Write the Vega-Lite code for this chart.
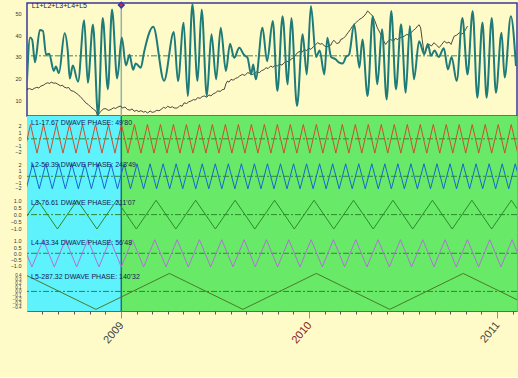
{
"$schema":"https://vega.github.io/schema/vega-lite/v6.json",
"background":"#fffbc9",
"padding":{"left":0,"top":0,"right":2,"bottom":31},
"spacing":0,
"bounds":"flush",
"config":{"axisY":{"grid":false,"ticks":false,"domain":false,"labelFontSize":5.5,"labelFont":"Liberation Sans","labelColor":"#333333","labelPadding":6,"minExtent":26,"maxExtent":26,"title":null,"labelOverlap":false,"labelBound":false,"labelFlush":false}},
"datasets":{
"mean":[{"v":30.5}],
"zero":[{"v":0}],
"marker":[{"d":183,"top":54.07}],
"zones":[{"d":-20,"d2":183,"zone":"a"},{"d":183,"d2":980,"zone":"b"}],
"toptext":[{"d":9,"v":53.5,"text":"L1+L2+L3+L4+L5"}],
"labels":[{"p":"L1","d":8,"v":2.4,"text":"L1-17.67 DWAVE PHASE: 49'80"},{"p":"L2","d":8,"v":1.9,"text":"L2-59.39 DWAVE PHASE: 243'49"},{"p":"L3","d":8,"v":0.87,"text":"L3-76.61 DWAVE PHASE: 211'07"},{"p":"L4","d":8,"v":0.81,"text":"L4-43.34 DWAVE PHASE: 56'48"},{"p":"L5","d":8,"v":0.36,"text":"L5-287.32 DWAVE PHASE: 140'32"}],
"teal":[{"d":0,"v":19},{"d":6,"v":39},{"d":10,"v":38},{"d":15.5,"v":27.5},{"d":25,"v":42.5},{"d":31,"v":42},{"d":37,"v":31},{"d":43,"v":31.5},{"d":52,"v":23.5},{"d":56,"v":25.5},{"d":62,"v":22.5},{"d":73,"v":41},{"d":79,"v":33},{"d":83,"v":20},{"d":89,"v":26},{"d":99,"v":18.5},{"d":111,"v":47},{"d":118,"v":18},{"d":128,"v":45},{"d":138,"v":2.5},{"d":147,"v":48},{"d":157,"v":15},{"d":165,"v":52},{"d":175,"v":20},{"d":184,"v":39},{"d":192,"v":26},{"d":199,"v":31},{"d":206,"v":24},{"d":211,"v":27},{"d":221,"v":25},{"d":227,"v":32},{"d":245,"v":44},{"d":266,"v":19},{"d":285,"v":41.5},{"d":293,"v":18.8},{"d":304,"v":45.8},{"d":312,"v":11.9},{"d":321,"v":54.4},{"d":331,"v":18.8},{"d":339,"v":52},{"d":349,"v":11.9},{"d":358,"v":40.5},{"d":367,"v":19.6},{"d":376,"v":43.5},{"d":386,"v":23.5},{"d":394,"v":36.1},{"d":402,"v":29.6},{"d":412,"v":34.2},{"d":421,"v":31},{"d":428,"v":29.6},{"d":435,"v":21.9},{"d":439,"v":26.5},{"d":444,"v":19.6},{"d":457,"v":43.5},{"d":466,"v":28},{"d":477,"v":46.6},{"d":486,"v":14.2},{"d":496,"v":48.9},{"d":506,"v":17.3},{"d":513,"v":48.1},{"d":524,"v":7.2},{"d":535,"v":40.5},{"d":543,"v":21.9},{"d":551,"v":53.6},{"d":561,"v":30},{"d":568,"v":33},{"d":577,"v":21.9},{"d":583,"v":38.9},{"d":590,"v":30},{"d":599,"v":28.9},{"d":605,"v":27.5},{"d":613,"v":27},{"d":619,"v":30},{"d":625,"v":31},{"d":635,"v":45.1},{"d":645,"v":25},{"d":651,"v":38.1},{"d":661,"v":11.9},{"d":671,"v":48.9},{"d":680,"v":17.3},{"d":689,"v":42.8},{"d":698,"v":10.3},{"d":707,"v":51.3},{"d":716,"v":15},{"d":726,"v":45.1},{"d":735,"v":13.4},{"d":743,"v":44.3},{"d":751,"v":19.6},{"d":761,"v":37.3},{"d":771,"v":31.2},{"d":778,"v":36},{"d":784,"v":30.5},{"d":791,"v":33},{"d":799,"v":30},{"d":809,"v":34},{"d":817,"v":24.2},{"d":824,"v":30},{"d":834,"v":18.8},{"d":845,"v":48.1},{"d":855,"v":21.9},{"d":865,"v":51.3},{"d":874,"v":11.1},{"d":884,"v":46},{"d":892,"v":11.1},{"d":902,"v":48.1},{"d":910,"v":13.4},{"d":921,"v":41.2},{"d":927,"v":20.4},{"d":939,"v":48.9},{"d":949,"v":25.8}],
"price":[{"d":0,"v":15},{"d":5,"v":15.3},{"d":10,"v":14.8},{"d":14,"v":15.4},{"d":19,"v":15.9},{"d":23,"v":15.6},{"d":27,"v":16.5},{"d":32,"v":16.9},{"d":36,"v":17.6},{"d":40,"v":18},{"d":44,"v":17.7},{"d":47,"v":18.3},{"d":52,"v":17.8},{"d":56,"v":17.9},{"d":60,"v":17.3},{"d":65,"v":16.6},{"d":69,"v":16.9},{"d":72,"v":16},{"d":77,"v":15.6},{"d":81,"v":15.8},{"d":85,"v":14.4},{"d":90,"v":14.1},{"d":95,"v":13.3},{"d":100,"v":12.4},{"d":105,"v":11.1},{"d":109,"v":10.2},{"d":114,"v":8.7},{"d":119,"v":7.9},{"d":124,"v":6.7},{"d":129,"v":5.8},{"d":134,"v":4.8},{"d":137,"v":2.6},{"d":140,"v":3.9},{"d":144,"v":4.8},{"d":148,"v":5.9},{"d":153,"v":6},{"d":158,"v":5.2},{"d":163,"v":5.6},{"d":168,"v":6.4},{"d":172,"v":6.1},{"d":176,"v":6.7},{"d":181,"v":7.2},{"d":186,"v":6.3},{"d":190,"v":6.8},{"d":195,"v":5.6},{"d":200,"v":5.3},{"d":204,"v":5.9},{"d":208,"v":4.8},{"d":213,"v":5.2},{"d":217,"v":4.6},{"d":221,"v":5.1},{"d":226,"v":4.4},{"d":230,"v":4.7},{"d":234,"v":4},{"d":239,"v":4.9},{"d":243,"v":4.3},{"d":247,"v":4.5},{"d":252,"v":5.3},{"d":256,"v":5},{"d":260,"v":5.6},{"d":265,"v":6.6},{"d":269,"v":6.2},{"d":273,"v":7.1},{"d":278,"v":6.5},{"d":282,"v":6.9},{"d":286,"v":6.3},{"d":292,"v":6.3},{"d":297,"v":7.5},{"d":301,"v":7.1},{"d":305,"v":8.7},{"d":310,"v":8.4},{"d":314,"v":9.2},{"d":318,"v":9.5},{"d":323,"v":10.2},{"d":327,"v":10},{"d":331,"v":11.1},{"d":336,"v":10.8},{"d":340,"v":11.6},{"d":344,"v":11.9},{"d":349,"v":11.3},{"d":353,"v":12.4},{"d":357,"v":11.9},{"d":361,"v":12.8},{"d":366,"v":13.4},{"d":370,"v":14.2},{"d":375,"v":14},{"d":379,"v":14.8},{"d":383,"v":15},{"d":386,"v":17.5},{"d":389,"v":18.8},{"d":392,"v":18.3},{"d":396,"v":19.6},{"d":400,"v":19.2},{"d":405,"v":20.1},{"d":409,"v":20.4},{"d":413,"v":21.2},{"d":418,"v":21.9},{"d":423,"v":21.4},{"d":428,"v":22.7},{"d":432,"v":22.4},{"d":437,"v":21.8},{"d":441,"v":22.2},{"d":446,"v":23.1},{"d":451,"v":22.7},{"d":455,"v":23.6},{"d":460,"v":24.1},{"d":464,"v":25},{"d":468,"v":24.6},{"d":473,"v":25.8},{"d":477,"v":25.2},{"d":482,"v":26.1},{"d":486,"v":25.8},{"d":490,"v":26.6},{"d":495,"v":26.2},{"d":499,"v":27.3},{"d":503,"v":28.1},{"d":508,"v":27.7},{"d":512,"v":28.9},{"d":517,"v":29.6},{"d":521,"v":30.8},{"d":525,"v":32},{"d":530,"v":32.6},{"d":534,"v":32.2},{"d":538,"v":33.5},{"d":543,"v":32.9},{"d":547,"v":34.1},{"d":551,"v":33.5},{"d":556,"v":34.8},{"d":560,"v":35.6},{"d":564,"v":36.6},{"d":569,"v":35.9},{"d":573,"v":36.2},{"d":577,"v":35.1},{"d":582,"v":34.6},{"d":586,"v":35.2},{"d":590,"v":35.5},{"d":593,"v":37.1},{"d":596,"v":37.7},{"d":601,"v":36.2},{"d":606,"v":36.6},{"d":609,"v":38.1},{"d":614,"v":38.6},{"d":618,"v":39.6},{"d":623,"v":41.2},{"d":628,"v":42.8},{"d":631,"v":44},{"d":635,"v":45.1},{"d":640,"v":46.2},{"d":645,"v":47.4},{"d":649,"v":47.9},{"d":654,"v":48.9},{"d":658,"v":50.1},{"d":661,"v":51.3},{"d":666,"v":50.2},{"d":671,"v":48.9},{"d":675,"v":46.8},{"d":680,"v":43.5},{"d":685,"v":41.2},{"d":690,"v":38.9},{"d":693,"v":37},{"d":696,"v":35.8},{"d":701,"v":37.4},{"d":706,"v":38.1},{"d":711,"v":37.2},{"d":715,"v":38.6},{"d":719,"v":38.1},{"d":724,"v":38.9},{"d":728,"v":39.2},{"d":732,"v":39.6},{"d":737,"v":40.4},{"d":741,"v":40.1},{"d":745,"v":41.2},{"d":750,"v":42.3},{"d":754,"v":43.1},{"d":758,"v":44.3},{"d":761,"v":44.9},{"d":764,"v":43.5},{"d":767,"v":38},{"d":771,"v":31.2},{"d":775,"v":33.6},{"d":780,"v":35.8},{"d":785,"v":35.1},{"d":790,"v":36.6},{"d":795,"v":35.4},{"d":800,"v":34.3},{"d":805,"v":35.8},{"d":810,"v":37.3},{"d":815,"v":36.4},{"d":819,"v":36.9},{"d":823,"v":35.8},{"d":826,"v":37.8},{"d":829,"v":39.6},{"d":834,"v":40.1},{"d":839,"v":41.2},{"d":843,"v":40.6},{"d":848,"v":41.2},{"d":851,"v":42.6},{"d":855,"v":44.3}],
"L1":[{"d":-5.8,"v":-2.2},{"d":6.8,"v":2.2},{"d":19.4,"v":-2.2},{"d":32.0,"v":2.2},{"d":44.6,"v":-2.2},{"d":57.2,"v":2.2},{"d":69.8,"v":-2.2},{"d":82.4,"v":2.2},{"d":95.1,"v":-2.2},{"d":107.7,"v":2.2},{"d":120.3,"v":-2.2},{"d":132.9,"v":2.2},{"d":145.5,"v":-2.2},{"d":158.1,"v":2.2},{"d":170.7,"v":-2.2},{"d":183.3,"v":2.2},{"d":195.9,"v":-2.2},{"d":208.5,"v":2.2},{"d":221.1,"v":-2.2},{"d":233.7,"v":2.2},{"d":246.4,"v":-2.2},{"d":259.0,"v":2.2},{"d":271.6,"v":-2.2},{"d":284.2,"v":2.2},{"d":296.8,"v":-2.2},{"d":309.4,"v":2.2},{"d":322.0,"v":-2.2},{"d":334.6,"v":2.2},{"d":347.2,"v":-2.2},{"d":359.8,"v":2.2},{"d":372.4,"v":-2.2},{"d":385.0,"v":2.2},{"d":397.6,"v":-2.2},{"d":410.3,"v":2.2},{"d":422.9,"v":-2.2},{"d":435.5,"v":2.2},{"d":448.1,"v":-2.2},{"d":460.7,"v":2.2},{"d":473.3,"v":-2.2},{"d":485.9,"v":2.2},{"d":498.5,"v":-2.2},{"d":511.1,"v":2.2},{"d":523.7,"v":-2.2},{"d":536.3,"v":2.2},{"d":548.9,"v":-2.2},{"d":561.6,"v":2.2},{"d":574.2,"v":-2.2},{"d":586.8,"v":2.2},{"d":599.4,"v":-2.2},{"d":612.0,"v":2.2},{"d":624.6,"v":-2.2},{"d":637.2,"v":2.2},{"d":649.8,"v":-2.2},{"d":662.4,"v":2.2},{"d":675.0,"v":-2.2},{"d":687.6,"v":2.2},{"d":700.2,"v":-2.2},{"d":712.8,"v":2.2},{"d":725.5,"v":-2.2},{"d":738.1,"v":2.2},{"d":750.7,"v":-2.2},{"d":763.3,"v":2.2},{"d":775.9,"v":-2.2},{"d":788.5,"v":2.2},{"d":801.1,"v":-2.2},{"d":813.7,"v":2.2},{"d":826.3,"v":-2.2},{"d":838.9,"v":2.2},{"d":851.5,"v":-2.2},{"d":864.1,"v":2.2},{"d":876.7,"v":-2.2},{"d":889.3,"v":2.2},{"d":901.9,"v":-2.2},{"d":914.6,"v":2.2},{"d":927.2,"v":-2.2},{"d":939.8,"v":2.2},{"d":952.4,"v":-2.2}],
"L2":[{"d":-1.6,"v":-2.2},{"d":11.1,"v":2.2},{"d":23.8,"v":-2.2},{"d":36.4,"v":2.2},{"d":49.1,"v":-2.2},{"d":61.7,"v":2.2},{"d":74.4,"v":-2.2},{"d":87.0,"v":2.2},{"d":99.7,"v":-2.2},{"d":112.3,"v":2.2},{"d":125.0,"v":-2.2},{"d":137.7,"v":2.2},{"d":150.3,"v":-2.2},{"d":163.0,"v":2.2},{"d":175.6,"v":-2.2},{"d":188.3,"v":2.2},{"d":200.9,"v":-2.2},{"d":213.6,"v":2.2},{"d":226.2,"v":-2.2},{"d":238.9,"v":2.2},{"d":251.5,"v":-2.2},{"d":264.2,"v":2.2},{"d":276.9,"v":-2.2},{"d":289.5,"v":2.2},{"d":302.2,"v":-2.2},{"d":314.8,"v":2.2},{"d":327.5,"v":-2.2},{"d":340.1,"v":2.2},{"d":352.8,"v":-2.2},{"d":365.4,"v":2.2},{"d":378.1,"v":-2.2},{"d":390.8,"v":2.2},{"d":403.4,"v":-2.2},{"d":416.1,"v":2.2},{"d":428.7,"v":-2.2},{"d":441.4,"v":2.2},{"d":454.0,"v":-2.2},{"d":466.7,"v":2.2},{"d":479.3,"v":-2.2},{"d":492.0,"v":2.2},{"d":504.6,"v":-2.2},{"d":517.3,"v":2.2},{"d":530.0,"v":-2.2},{"d":542.6,"v":2.2},{"d":555.3,"v":-2.2},{"d":567.9,"v":2.2},{"d":580.6,"v":-2.2},{"d":593.2,"v":2.2},{"d":605.9,"v":-2.2},{"d":618.5,"v":2.2},{"d":631.2,"v":-2.2},{"d":643.9,"v":2.2},{"d":656.5,"v":-2.2},{"d":669.2,"v":2.2},{"d":681.8,"v":-2.2},{"d":694.5,"v":2.2},{"d":707.1,"v":-2.2},{"d":719.8,"v":2.2},{"d":732.4,"v":-2.2},{"d":745.1,"v":2.2},{"d":757.7,"v":-2.2},{"d":770.4,"v":2.2},{"d":783.1,"v":-2.2},{"d":795.7,"v":2.2},{"d":808.4,"v":-2.2},{"d":821.0,"v":2.2},{"d":833.7,"v":-2.2},{"d":846.3,"v":2.2},{"d":859.0,"v":-2.2},{"d":871.6,"v":2.2},{"d":884.3,"v":-2.2},{"d":897.0,"v":2.2},{"d":909.6,"v":-2.2},{"d":922.3,"v":2.2},{"d":934.9,"v":-2.2},{"d":947.6,"v":2.2},{"d":960.2,"v":-2.2}],
"L3":[{"d":-17.5,"v":-1.05},{"d":20.8,"v":1.05},{"d":59.1,"v":-1.05},{"d":97.4,"v":1.05},{"d":135.7,"v":-1.05},{"d":174.0,"v":1.05},{"d":212.3,"v":-1.05},{"d":250.6,"v":1.05},{"d":288.9,"v":-1.05},{"d":327.3,"v":1.05},{"d":365.6,"v":-1.05},{"d":403.9,"v":1.05},{"d":442.2,"v":-1.05},{"d":480.5,"v":1.05},{"d":518.8,"v":-1.05},{"d":557.1,"v":1.05},{"d":595.4,"v":-1.05},{"d":633.7,"v":1.05},{"d":672.0,"v":-1.05},{"d":710.3,"v":1.05},{"d":748.6,"v":-1.05},{"d":786.9,"v":1.05},{"d":825.2,"v":-1.05},{"d":863.5,"v":1.05},{"d":901.8,"v":-1.05},{"d":940.1,"v":1.05},{"d":978.4,"v":-1.05}],
"L4":[{"d":-33.7,"v":-1.1},{"d":-12.0,"v":1.1},{"d":9.6,"v":-1.1},{"d":31.3,"v":1.1},{"d":53.0,"v":-1.1},{"d":74.6,"v":1.1},{"d":96.3,"v":-1.1},{"d":118.0,"v":1.1},{"d":139.7,"v":-1.1},{"d":161.3,"v":1.1},{"d":183.0,"v":-1.1},{"d":204.7,"v":1.1},{"d":226.3,"v":-1.1},{"d":248.0,"v":1.1},{"d":269.7,"v":-1.1},{"d":291.4,"v":1.1},{"d":313.0,"v":-1.1},{"d":334.7,"v":1.1},{"d":356.4,"v":-1.1},{"d":378.0,"v":1.1},{"d":399.7,"v":-1.1},{"d":421.4,"v":1.1},{"d":443.0,"v":-1.1},{"d":464.7,"v":1.1},{"d":486.4,"v":-1.1},{"d":508.1,"v":1.1},{"d":529.7,"v":-1.1},{"d":551.4,"v":1.1},{"d":573.1,"v":-1.1},{"d":594.7,"v":1.1},{"d":616.4,"v":-1.1},{"d":638.1,"v":1.1},{"d":659.7,"v":-1.1},{"d":681.4,"v":1.1},{"d":703.1,"v":-1.1},{"d":724.8,"v":1.1},{"d":746.4,"v":-1.1},{"d":768.1,"v":1.1},{"d":789.8,"v":-1.1},{"d":811.4,"v":1.1},{"d":833.1,"v":-1.1},{"d":854.8,"v":1.1},{"d":876.4,"v":-1.1},{"d":898.1,"v":1.1},{"d":919.8,"v":-1.1},{"d":941.5,"v":1.1},{"d":963.1,"v":-1.1}],
"L5":[{"d":-8.7,"v":0.44},{"d":133.8,"v":-0.44},{"d":276.4,"v":0.44},{"d":419,"v":-0.44},{"d":561.5,"v":0.44},{"d":704.1,"v":-0.44},{"d":846.7,"v":0.44},{"d":989.2,"v":-0.44}]
},
"vconcat":[
{"width":490,"height":113,"view":{"stroke":"#3a3a9c","strokeWidth":1.5},
"layer":[
{"data":{"name":"mean"},"mark":{"type":"rule","color":"#3a8a4a","strokeDash":[6,2,2,2],"strokeWidth":1},"encoding":{"y":{"field":"v","type":"quantitative","scale":{"domain":[2.6,55],"nice":false,"zero":false},"axis":{"values":[10,20,30,40,50]}}}},
{"data":{"name":"marker"},"mark":{"type":"rule","color":"#8db3aa","strokeWidth":1.5},"encoding":{"x":{"field":"d","type":"quantitative","scale":{"domain":[0,951],"nice":false,"zero":false},"axis":null}}},
{"data":{"name":"price"},"mark":{"type":"line","color":"#1a1a1a","strokeWidth":0.8,"clip":true},"encoding":{"x":{"field":"d","type":"quantitative","scale":{"domain":[0,951],"nice":false,"zero":false},"axis":null},"y":{"field":"v","type":"quantitative","scale":{"domain":[2.6,55],"nice":false,"zero":false},"axis":{"values":[10,20,30,40,50]}}}},
{"data":{"name":"teal"},"mark":{"type":"line","color":"#1e7b78","strokeWidth":2,"interpolate":"monotone","clip":true},"encoding":{"x":{"field":"d","type":"quantitative","scale":{"domain":[0,951],"nice":false,"zero":false},"axis":null},"y":{"field":"v","type":"quantitative","scale":{"domain":[2.6,55],"nice":false,"zero":false},"axis":{"values":[10,20,30,40,50]}}}},
{"data":{"name":"toptext"},"mark":{"type":"text","align":"left","baseline":"middle","fontSize":7,"font":"Liberation Sans","color":"#1a1a4a"},"encoding":{"x":{"field":"d","type":"quantitative","scale":{"domain":[0,951],"nice":false,"zero":false},"axis":null},"y":{"field":"v","type":"quantitative","scale":{"domain":[2.6,55],"nice":false,"zero":false},"axis":{"values":[10,20,30,40,50]}},"text":{"field":"text"}}},
{"data":{"name":"marker"},"mark":{"type":"point","shape":"diamond","filled":true,"size":60,"color":"#3434b0","opacity":1},"encoding":{"x":{"field":"d","type":"quantitative","scale":{"domain":[0,951],"nice":false,"zero":false},"axis":null},"y":{"field":"top","type":"quantitative","scale":{"domain":[2.6,55],"nice":false,"zero":false},"axis":{"values":[10,20,30,40,50]}}}},
{"data":{"name":"marker"},"mark":{"type":"point","shape":"diamond","filled":true,"size":14,"color":"#e02828","opacity":1},"encoding":{"x":{"field":"d","type":"quantitative","scale":{"domain":[0,951],"nice":false,"zero":false},"axis":null},"y":{"field":"top","type":"quantitative","scale":{"domain":[2.6,55],"nice":false,"zero":false},"axis":{"values":[10,20,30,40,50]}}}}
]},
{"width":490,"height":39,"view":{"stroke":"#9a9a9a"},
"layer":[
{"data":{"name":"zones"},"mark":{"type":"rect","clip":true},"encoding":{"x":{"field":"d","type":"quantitative","scale":{"domain":[0,951],"nice":false,"zero":false},"axis":null},"x2":{"field":"d2"},"color":{"field":"zone","type":"nominal","scale":{"domain":["a","b"],"range":["#5ef2fd","#68ea68"]},"legend":null}}},
{"data":{"name":"zero"},"mark":{"type":"rule","color":"#2d8a2d","strokeDash":[6,2,2,2]},"encoding":{"y":{"field":"v","type":"quantitative","scale":{"domain":[-2.49,3.51],"nice":false,"zero":false},"axis":{"values":[-2,-1,0,1,2]}}}},
{"data":{"name":"marker"},"mark":{"type":"rule","color":"#2b7070","strokeWidth":1.5},"encoding":{"x":{"field":"d","type":"quantitative","scale":{"domain":[0,951],"nice":false,"zero":false},"axis":null}}},
{"data":{"name":"L1"},"mark":{"type":"line","color":"#c8502d","strokeWidth":1,"clip":true},"encoding":{"x":{"field":"d","type":"quantitative","scale":{"domain":[0,951],"nice":false,"zero":false},"axis":null},"y":{"field":"v","type":"quantitative","scale":{"domain":[-2.49,3.51],"nice":false,"zero":false},"axis":{"values":[-2,-1,0,1,2]}}}},
{"data":{"name":"labels"},"transform":[{"filter":"datum.p=='L1'"}],"mark":{"type":"text","align":"left","baseline":"middle","fontSize":7,"font":"Liberation Sans","color":"#1a2050"},"encoding":{"x":{"field":"d","type":"quantitative","scale":{"domain":[0,951],"nice":false,"zero":false},"axis":null},"y":{"field":"v","type":"quantitative","scale":{"domain":[-2.49,3.51],"nice":false,"zero":false},"axis":{"values":[-2,-1,0,1,2]}},"text":{"field":"text"}}}
]},
{"width":490,"height":38,"view":{"stroke":"#9a9a9a"},
"layer":[
{"data":{"name":"zones"},"mark":{"type":"rect","clip":true},"encoding":{"x":{"field":"d","type":"quantitative","scale":{"domain":[0,951],"nice":false,"zero":false},"axis":null},"x2":{"field":"d2"},"color":{"field":"zone","type":"nominal","scale":{"domain":["a","b"],"range":["#5ef2fd","#68ea68"]},"legend":null}}},
{"data":{"name":"zero"},"mark":{"type":"rule","color":"#2d8a2d","strokeDash":[6,2,2,2]},"encoding":{"y":{"field":"v","type":"quantitative","scale":{"domain":[-2.93,3.74],"nice":false,"zero":false},"axis":{"values":[-2,-1,0,1,2]}}}},
{"data":{"name":"marker"},"mark":{"type":"rule","color":"#2b7070","strokeWidth":1.5},"encoding":{"x":{"field":"d","type":"quantitative","scale":{"domain":[0,951],"nice":false,"zero":false},"axis":null}}},
{"data":{"name":"L2"},"mark":{"type":"line","color":"#1a66cc","strokeWidth":1,"clip":true},"encoding":{"x":{"field":"d","type":"quantitative","scale":{"domain":[0,951],"nice":false,"zero":false},"axis":null},"y":{"field":"v","type":"quantitative","scale":{"domain":[-2.93,3.74],"nice":false,"zero":false},"axis":{"values":[-2,-1,0,1,2]}}}},
{"data":{"name":"labels"},"transform":[{"filter":"datum.p=='L2'"}],"mark":{"type":"text","align":"left","baseline":"middle","fontSize":7,"font":"Liberation Sans","color":"#1a2050"},"encoding":{"x":{"field":"d","type":"quantitative","scale":{"domain":[0,951],"nice":false,"zero":false},"axis":null},"y":{"field":"v","type":"quantitative","scale":{"domain":[-2.93,3.74],"nice":false,"zero":false},"axis":{"values":[-2,-1,0,1,2]}},"text":{"field":"text"}}}
]},
{"width":490,"height":39,"view":{"stroke":"#9a9a9a"},
"layer":[
{"data":{"name":"zones"},"mark":{"type":"rect","clip":true},"encoding":{"x":{"field":"d","type":"quantitative","scale":{"domain":[0,951],"nice":false,"zero":false},"axis":null},"x2":{"field":"d2"},"color":{"field":"zone","type":"nominal","scale":{"domain":["a","b"],"range":["#5ef2fd","#68ea68"]},"legend":null}}},
{"data":{"name":"zero"},"mark":{"type":"rule","color":"#2d8a2d","strokeDash":[6,2,2,2]},"encoding":{"y":{"field":"v","type":"quantitative","scale":{"domain":[-1.27,1.58],"nice":false,"zero":false},"axis":{"values":[-1,-0.5,0,0.5,1]}}}},
{"data":{"name":"marker"},"mark":{"type":"rule","color":"#2b7070","strokeWidth":1.5},"encoding":{"x":{"field":"d","type":"quantitative","scale":{"domain":[0,951],"nice":false,"zero":false},"axis":null}}},
{"data":{"name":"L3"},"mark":{"type":"line","color":"#2a8a2a","strokeWidth":1,"clip":true},"encoding":{"x":{"field":"d","type":"quantitative","scale":{"domain":[0,951],"nice":false,"zero":false},"axis":null},"y":{"field":"v","type":"quantitative","scale":{"domain":[-1.27,1.58],"nice":false,"zero":false},"axis":{"values":[-1,-0.5,0,0.5,1]}}}},
{"data":{"name":"labels"},"transform":[{"filter":"datum.p=='L3'"}],"mark":{"type":"text","align":"left","baseline":"middle","fontSize":7,"font":"Liberation Sans","color":"#1a2050"},"encoding":{"x":{"field":"d","type":"quantitative","scale":{"domain":[0,951],"nice":false,"zero":false},"axis":null},"y":{"field":"v","type":"quantitative","scale":{"domain":[-1.27,1.58],"nice":false,"zero":false},"axis":{"values":[-1,-0.5,0,0.5,1]}},"text":{"field":"text"}}}
]},
{"width":490,"height":39,"view":{"stroke":"#9a9a9a"},
"layer":[
{"data":{"name":"zones"},"mark":{"type":"rect","clip":true},"encoding":{"x":{"field":"d","type":"quantitative","scale":{"domain":[0,951],"nice":false,"zero":false},"axis":null},"x2":{"field":"d2"},"color":{"field":"zone","type":"nominal","scale":{"domain":["a","b"],"range":["#5ef2fd","#68ea68"]},"legend":null}}},
{"data":{"name":"zero"},"mark":{"type":"rule","color":"#2d8a2d","strokeDash":[6,2,2,2]},"encoding":{"y":{"field":"v","type":"quantitative","scale":{"domain":[-1.43,1.72],"nice":false,"zero":false},"axis":{"values":[-1,-0.5,0,0.5,1]}}}},
{"data":{"name":"marker"},"mark":{"type":"rule","color":"#2b7070","strokeWidth":1.5},"encoding":{"x":{"field":"d","type":"quantitative","scale":{"domain":[0,951],"nice":false,"zero":false},"axis":null}}},
{"data":{"name":"L4"},"mark":{"type":"line","color":"#b070d8","strokeWidth":1,"clip":true},"encoding":{"x":{"field":"d","type":"quantitative","scale":{"domain":[0,951],"nice":false,"zero":false},"axis":null},"y":{"field":"v","type":"quantitative","scale":{"domain":[-1.43,1.72],"nice":false,"zero":false},"axis":{"values":[-1,-0.5,0,0.5,1]}}}},
{"data":{"name":"labels"},"transform":[{"filter":"datum.p=='L4'"}],"mark":{"type":"text","align":"left","baseline":"middle","fontSize":7,"font":"Liberation Sans","color":"#1a2050"},"encoding":{"x":{"field":"d","type":"quantitative","scale":{"domain":[0,951],"nice":false,"zero":false},"axis":null},"y":{"field":"v","type":"quantitative","scale":{"domain":[-1.43,1.72],"nice":false,"zero":false},"axis":{"values":[-1,-0.5,0,0.5,1]}},"text":{"field":"text"}}}
]},
{"width":490,"height":40,"view":{"stroke":"#9a9a9a"},
"layer":[
{"data":{"name":"zones"},"mark":{"type":"rect","clip":true},"encoding":{"x":{"field":"d","type":"quantitative","scale":{"domain":[0,951],"nice":false,"zero":false},"axis":{"values":[183,548,913],"labelExpr":"datum.value==183?'2009':(datum.value==548?'2010':'2011')","labelAngle":-50,"labelAlign":"right","labelBaseline":"middle","labelFontSize":11,"labelFont":"Liberation Sans","labelPadding":5,"labelOverlap":false,"labelBound":false,"labelFlush":false,"tickSize":7,"tickColor":"#e46a6a","labelColor":{"condition":{"test":"datum.value==548","value":"#8b1a1a"},"value":"#444444"},"domainColor":"#666666","grid":false,"title":null}},"x2":{"field":"d2"},"color":{"field":"zone","type":"nominal","scale":{"domain":["a","b"],"range":["#5ef2fd","#68ea68"]},"legend":null}}},
{"data":{"name":"zero"},"mark":{"type":"rule","color":"#2d8a2d","strokeDash":[6,2,2,2]},"encoding":{"y":{"field":"v","type":"quantitative","scale":{"domain":[-0.48,0.5],"nice":false,"zero":false},"axis":{"values":[-0.4,-0.3,-0.2,-0.1,0,0.1,0.2,0.3,0.4],"labelFontSize":4.5}}}},
{"data":{"name":"marker"},"mark":{"type":"rule","color":"#2b7070","strokeWidth":1.5},"encoding":{"x":{"field":"d","type":"quantitative","scale":{"domain":[0,951],"nice":false,"zero":false}}}},
{"data":{"name":"L5"},"mark":{"type":"line","color":"#4a7a2a","strokeWidth":1,"clip":true},"encoding":{"x":{"field":"d","type":"quantitative","scale":{"domain":[0,951],"nice":false,"zero":false}},"y":{"field":"v","type":"quantitative","scale":{"domain":[-0.48,0.5],"nice":false,"zero":false},"axis":{"values":[-0.4,-0.3,-0.2,-0.1,0,0.1,0.2,0.3,0.4],"labelFontSize":4.5}}}},
{"data":{"name":"labels"},"transform":[{"filter":"datum.p=='L5'"}],"mark":{"type":"text","align":"left","baseline":"middle","fontSize":7,"font":"Liberation Sans","color":"#1a2050"},"encoding":{"x":{"field":"d","type":"quantitative","scale":{"domain":[0,951],"nice":false,"zero":false}},"y":{"field":"v","type":"quantitative","scale":{"domain":[-0.48,0.5],"nice":false,"zero":false},"axis":{"values":[-0.4,-0.3,-0.2,-0.1,0,0.1,0.2,0.3,0.4],"labelFontSize":4.5}},"text":{"field":"text"}}}
]},
{"width":490,"height":1,"view":{"stroke":null},
"layer":[
{"data":{"name":"marker"},"mark":{"type":"point","opacity":0},"encoding":{"x":{"field":"d","type":"quantitative","scale":{"domain":[0,951],"nice":false,"zero":false},"axis":{"values":[30,61,91,122,152,214,242,273,303,334,364,395,426,456,487,517,579,607,638,668,699,729,760,791,821,852,882,944],"labels":false,"domain":false,"tickSize":3,"tickColor":"#555555","offset":-1,"grid":false,"title":null}},"y":{"field":"top","type":"quantitative","axis":{"labels":false}}}}
]}
]
}
